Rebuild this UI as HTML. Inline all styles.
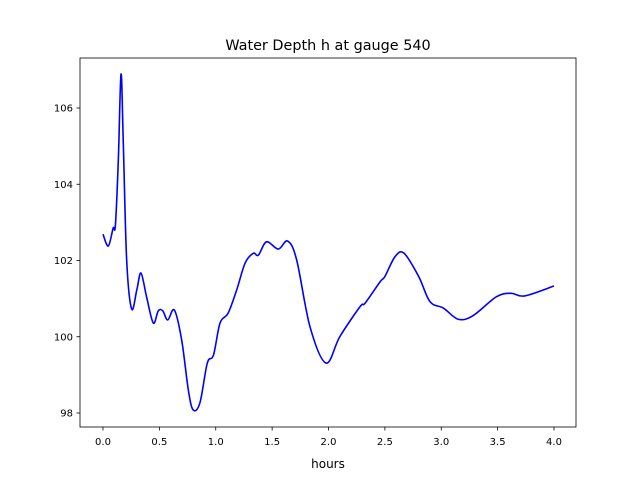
<!DOCTYPE html>
<html><head><meta charset="utf-8"><style>
body{margin:0;background:#fff;}
svg text{font-family:"DejaVu Sans","Liberation Sans",sans-serif;fill:#000;}
</style></head><body>
<svg id="chart" width="640" height="480" viewBox="0 0 640 480" xmlns="http://www.w3.org/2000/svg">
<rect width="640" height="480" fill="#fff"/>
<text x="328" y="50" font-size="14.4" text-anchor="middle">Water Depth h at gauge 540</text>
<g id="axes"></g>
<path id="line" fill="none" stroke="#0000ff" stroke-width="1.6" stroke-linejoin="round"/>
<rect x="80" y="58" width="496" height="369" fill="none" stroke="#000" stroke-width="0.8"/>
<text x="328" y="468" font-size="12" text-anchor="middle">hours</text>
</svg>
<script>
const hours=[0,0.047,0.09,0.11,0.136,0.16,0.18,0.21,0.254,0.30,0.337,0.387,0.446,0.49,0.53,0.574,0.633,0.698,0.757,0.80,0.86,0.925,0.98,1.038,1.11,1.186,1.26,1.333,1.378,1.45,1.555,1.638,1.718,1.836,1.978,2.10,2.28,2.324,2.457,2.50,2.59,2.67,2.80,2.90,3.02,3.15,3.28,3.49,3.62,3.74,4.0];
const depth=[102.69,102.38,102.85,102.93,104.64,106.89,105.08,102.01,100.73,101.23,101.67,101.04,100.36,100.68,100.68,100.44,100.70,99.91,98.6,98.08,98.27,99.31,99.52,100.36,100.62,101.23,101.93,102.19,102.14,102.49,102.30,102.51,102.01,100.26,99.31,100.0,100.79,100.88,101.44,101.58,102.1,102.19,101.58,100.92,100.75,100.46,100.55,101.05,101.14,101.07,101.33];
const xTicks=[0,0.5,1,1.5,2,2.5,3,3.5,4];
const xTickLabels=["0.0","0.5","1.0","1.5","2.0","2.5","3.0","3.5","4.0"];
const yTicks=[98,100,102,104,106];
const yTickLabels=["98","100","102","104","106"];
const xs=v=>103+v*112.75;
const ys=v=>108+(106-v)*38.125;
const NS="http://www.w3.org/2000/svg";
const ax=document.getElementById('axes');
function mk(t,a){const e=document.createElementNS(NS,t);for(const k in a)e.setAttribute(k,a[k]);ax.appendChild(e);return e;}
xTicks.forEach((v,i)=>{
 const l=mk('line',{x1:xs(v),x2:xs(v),y1:427,y2:430.5,stroke:'#000','stroke-width':0.8});
 
 
 const t=mk('text',{x:xs(v),y:445,'font-size':10,'text-anchor':'middle'});
 t.textContent=xTickLabels[i];
 
 
});
yTicks.forEach((v,i)=>{
 const l=mk('line',{x1:76.5,x2:80,y1:ys(v),y2:ys(v),stroke:'#000','stroke-width':0.8});
 
 
 const t=mk('text',{x:73,y:ys(v)+3.5,'font-size':10,'text-anchor':'end'});
 t.textContent=yTickLabels[i];
 
 
});
const P=hours.map((h,i)=>[xs(h),ys(depth[i])]);
let d='M'+P[0][0]+','+P[0][1];
for(let i=0;i<P.length-1;i++){
 const p0=P[Math.max(0,i-1)],p1=P[i],p2=P[i+1],p3=P[Math.min(P.length-1,i+2)];
 const c1=[p1[0]+(p2[0]-p0[0])/6,p1[1]+(p2[1]-p0[1])/6];
 const c2=[p2[0]-(p3[0]-p1[0])/6,p2[1]-(p3[1]-p1[1])/6];
 d+=`C${c1[0]},${c1[1]} ${c2[0]},${c2[1]} ${p2[0]},${p2[1]}`;
}
document.getElementById('line').setAttribute('d',d);
</script>
</body></html>
